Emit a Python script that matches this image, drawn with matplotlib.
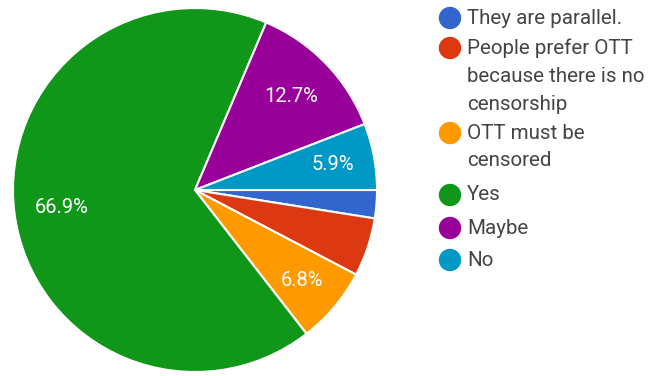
import numpy as np
import matplotlib.pyplot as plt
from matplotlib.patches import Ellipse

answers = ["They are parallel.", "People prefer OTT\nbecause there is no\ncensorship",
           "OTT must be\ncensored", "Yes", "Maybe", "No"]
shares = [2.5, 5.2, 6.8, 66.9, 12.7, 5.9]
colors = ["#3366cc", "#dc3912", "#ff9900", "#109618", "#990099", "#0099c6"]

plt.rcParams['font.family'] = ['Roboto', 'DejaVu Sans']

W, H = 652, 376
fig = plt.figure(figsize=(W / 100, H / 100), dpi=100)

# pie centred at (195, 190) px, radius 182 px
cx, cy, r = 195, 190, 182
ax = fig.add_axes([(cx - r) / W, (H - cy - r) / H, 2 * r / W, 2 * r / H])
wedges, _ = ax.pie(shares, colors=colors, startangle=0, counterclock=False, radius=1,
                   wedgeprops=dict(edgecolor="white", linewidth=1.5))
ax.set_xlim(-1, 1)
ax.set_ylim(-1, 1)
ax.set_aspect("equal")

# percentage text only on the bigger slices
for w, s in zip(wedges, shares):
    mid = np.deg2rad((w.theta1 + w.theta2) / 2)
    if s > 5.5:
        rr = 0.74 if s > 10 else 0.77
        ax.text(rr * np.cos(mid), rr * np.sin(mid), f"{s}%", ha="center", va="center",
                color="white", fontsize=14.5)

# legend on the right
row_y = [18, 48, 133, 195, 228, 260]
line_h = 28
for lab, c, y in zip(answers, colors, row_y):
    fig.add_artist(Ellipse((450 / W, 1 - y / H), 21 / W, 21 / H,
                           color=c, transform=fig.transFigure))
    for i, part in enumerate(lab.split("\n")):
        fig.text(467 / W, 1 - (y + i * line_h) / H, part, ha="left", va="center",
                 fontsize=14.8, color="#444444")

fig.savefig("out.png", dpi=100)
